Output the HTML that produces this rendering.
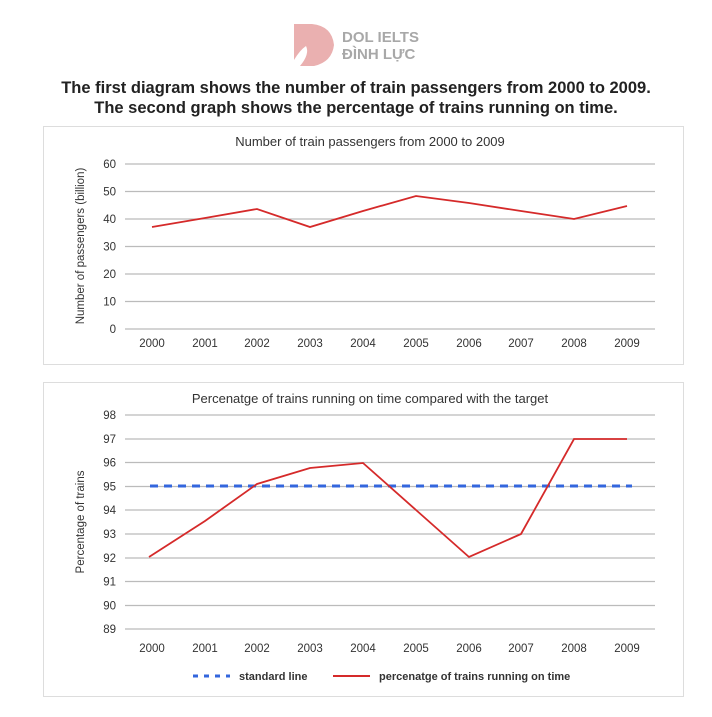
<!DOCTYPE html><html><head><style>body{margin:0;background:#fff;width:712px;height:712px;overflow:hidden}</style></head><body>
<svg width="712" height="712" xmlns="http://www.w3.org/2000/svg" font-family="Liberation Sans, sans-serif">
<path d="M294 24 L312 24 Q332 26 334 45 Q332 62 314 66 L300 66 Q310 54 306 46 Q300 50 294 60 Z" fill="#eab0b0"/>
<text x="342" y="42" font-size="15" font-weight="bold" fill="#a8a8a8">DOL IELTS</text>
<text x="342" y="59" font-size="15" font-weight="bold" fill="#a8a8a8">ĐÌNH LỰC</text>
<text x="356" y="93" font-size="16.5" font-weight="bold" fill="#222" text-anchor="middle">The first diagram shows the number of train passengers from 2000 to 2009.</text>
<text x="356" y="113" font-size="16.5" font-weight="bold" fill="#222" text-anchor="middle">The second graph shows the percentage of trains running on time.</text>
<rect x="43.5" y="126.5" width="640" height="238" fill="none" stroke="#ddd"/>
<text x="370" y="146" font-size="13" fill="#333" text-anchor="middle">Number of train passengers from 2000 to 2009</text>
<g stroke="#bbb" stroke-width="1.2">
<line x1="125" x2="655" y1="164" y2="164"/><line x1="125" x2="655" y1="191.5" y2="191.5"/><line x1="125" x2="655" y1="219" y2="219"/><line x1="125" x2="655" y1="246.5" y2="246.5"/><line x1="125" x2="655" y1="274" y2="274"/><line x1="125" x2="655" y1="301.5" y2="301.5"/><line x1="125" x2="655" y1="329" y2="329"/></g>
<g font-size="11.5" fill="#333" text-anchor="end">
<text x="116" y="168">60</text><text x="116" y="195.5">50</text><text x="116" y="223">40</text><text x="116" y="250.5">30</text><text x="116" y="278">20</text><text x="116" y="305.5">10</text><text x="116" y="333">0</text></g>
<g font-size="11.5" fill="#333" text-anchor="middle">
<text x="152" y="347">2000</text><text x="205" y="347">2001</text><text x="257" y="347">2002</text><text x="310" y="347">2003</text><text x="363" y="347">2004</text><text x="416" y="347">2005</text><text x="469" y="347">2006</text><text x="521" y="347">2007</text><text x="574" y="347">2008</text><text x="627" y="347">2009</text></g>
<text transform="translate(84,246) rotate(-90)" font-size="11.5" fill="#333" text-anchor="middle">Number of passengers (billion)</text>
<polyline fill="none" stroke="#d52a2a" stroke-width="1.8" points="152,227 205,218 257,209 310,227 363,211 416,196 469,203 521,211 574,219 627,206"/>
<rect x="43.5" y="382.5" width="640" height="314" fill="none" stroke="#ddd"/>
<text x="370" y="403" font-size="13" fill="#333" text-anchor="middle">Percenatge of trains running on time compared with the target</text>
<g stroke="#bbb" stroke-width="1.2">
<line x1="125" x2="655" y1="415" y2="415"/><line x1="125" x2="655" y1="439" y2="439"/><line x1="125" x2="655" y1="462.5" y2="462.5"/><line x1="125" x2="655" y1="486.5" y2="486.5"/><line x1="125" x2="655" y1="510" y2="510"/><line x1="125" x2="655" y1="534" y2="534"/><line x1="125" x2="655" y1="558" y2="558"/><line x1="125" x2="655" y1="581.5" y2="581.5"/><line x1="125" x2="655" y1="605.5" y2="605.5"/><line x1="125" x2="655" y1="629" y2="629"/></g>
<g font-size="11.5" fill="#333" text-anchor="end">
<text x="116" y="419">98</text><text x="116" y="443">97</text><text x="116" y="466.5">96</text><text x="116" y="490.5">95</text><text x="116" y="514">94</text><text x="116" y="538">93</text><text x="116" y="562">92</text><text x="116" y="585.5">91</text><text x="116" y="609.5">90</text><text x="116" y="633">89</text></g>
<g font-size="11.5" fill="#333" text-anchor="middle">
<text x="152" y="652">2000</text><text x="205" y="652">2001</text><text x="257" y="652">2002</text><text x="310" y="652">2003</text><text x="363" y="652">2004</text><text x="416" y="652">2005</text><text x="469" y="652">2006</text><text x="521" y="652">2007</text><text x="574" y="652">2008</text><text x="627" y="652">2009</text></g>
<text transform="translate(84,522) rotate(-90)" font-size="11.5" fill="#333" text-anchor="middle">Percentage of trains</text>
<line x1="150" x2="632" y1="486" y2="486" stroke="#3366dd" stroke-width="3" stroke-dasharray="8,6"/>
<polyline fill="none" stroke="#d52a2a" stroke-width="1.8" points="149,557 205,521 257,484 310,468 363,463 416,510 469,557 521,534 574,439 627,439"/>
<line x1="193" x2="230" y1="676" y2="676" stroke="#3366dd" stroke-width="3" stroke-dasharray="5,6"/>
<text x="239" y="680" font-size="11" font-weight="bold" fill="#333">standard line</text>
<line x1="333" x2="370" y1="676" y2="676" stroke="#d52a2a" stroke-width="2"/>
<text x="379" y="680" font-size="11" font-weight="bold" fill="#333">percenatge of trains running on time</text>
</svg></body></html>
